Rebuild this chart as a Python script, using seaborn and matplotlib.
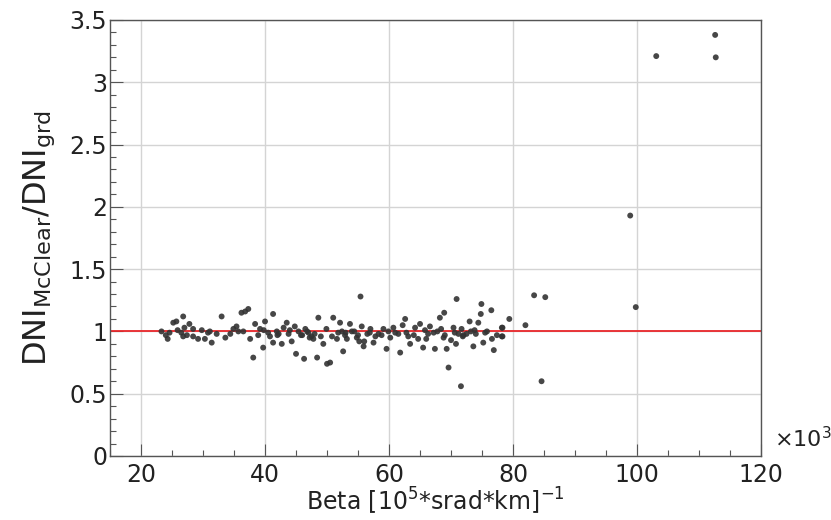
import numpy as np
import pandas as pd
import matplotlib
matplotlib.use("Agg")
import matplotlib.pyplot as plt
from matplotlib.ticker import MultipleLocator
import seaborn as sns

# Beta values (in units of 10^3) and DNI ratio
beta = [
    # 23-37
    26.8, 25.7, 25.2, 33.0, 36.2, 27.8, 23.3, 26.5, 28.4, 31.1, 35.4, 24.3,
    26.8, 29.2, 30.3, 31.4, 34.4, 35.7, 28.4, 24.6, 32.2, 27.0, 29.8, 33.6,
    25.9, 27.4, 30.8, 34.9, 24.0,
    # 36-51
    36.8, 37.3, 41.3, 40.0, 43.5, 48.6, 38.4, 36.5, 39.2, 40.5, 41.9, 45.4,
    47.0, 49.9, 37.6, 41.3, 42.7, 44.3, 47.8, 49.4, 39.7, 38.1, 45.0, 46.3,
    48.4, 50.0, 50.8, 43.0, 46.0, 38.9, 44.8, 47.5,
    42.2, 44.0, 45.8, 46.8, 48.0, 49.0, 40.8, 43.8, 46.5, 47.2, 39.8, 42.0,
    # 50-65
    55.4, 62.6, 51.0, 52.1, 53.7, 55.6, 57.0, 59.1, 60.7, 64.2, 65.0, 51.6,
    53.2, 54.8, 55.9, 57.5, 60.2, 61.8, 63.4, 63.1, 50.5, 52.6, 58.3, 64.7,
    54.0, 56.5, 58.8, 61.0, 62.2, 53.0, 56.0, 59.6,
    51.8, 52.9, 54.4, 55.0, 56.9, 57.8, 59.9, 61.5, 62.8, 64.0, 52.4, 55.2,
    # 65-80
    70.9, 74.9, 76.5, 74.8, 68.9, 68.2, 79.4, 73.0, 74.4, 66.6, 78.2, 71.7,
    70.4, 65.5, 67.4, 69.3, 70.8, 71.9, 73.6, 75.2, 76.6, 76.9, 78.2, 66.0,
    69.6, 71.6, 68.8, 67.2, 72.5, 75.8, 70.0, 73.8,
    66.3, 67.8, 69.0, 70.6, 72.0, 73.2, 74.0, 75.5, 77.4, 65.8, 68.4, 71.2,
    # 78-113
    78.3, 78.3, 82.0, 83.4, 85.2, 84.6, 98.9, 99.8, 103.1, 112.6, 112.7,
]
ratio = [
    1.12, 1.08, 1.07, 1.12, 1.15, 1.06, 1.00, 0.99, 1.02, 1.00, 1.04, 0.94,
    0.96, 0.94, 0.94, 0.91, 0.98, 1.00, 0.96, 0.99, 0.98, 1.03, 1.01, 0.95,
    1.01, 0.97, 0.99, 1.02, 0.97,
    1.16, 1.18, 1.14, 1.08, 1.07, 1.11, 1.06, 1.00, 1.02, 0.99, 1.00, 1.00,
    0.99, 1.02, 0.94, 0.91, 0.90, 0.92, 0.94, 0.90, 0.87, 0.79, 0.82, 0.78,
    0.79, 0.74, 0.96, 1.03, 0.97, 0.97, 1.04, 0.96,
    0.98, 1.01, 0.97, 1.00, 0.98, 0.96, 0.96, 0.98, 1.02, 0.95, 1.01, 0.97,
    1.28, 1.10, 1.11, 1.07, 1.06, 1.04, 1.02, 1.02, 1.03, 1.03, 1.06, 0.94,
    0.94, 0.95, 0.88, 0.91, 0.95, 0.83, 0.90, 0.96, 0.75, 0.84, 0.98, 0.94,
    1.00, 0.98, 0.97, 0.99, 1.05, 0.99, 0.92, 0.86,
    0.99, 0.97, 1.00, 0.97, 0.99, 0.96, 1.00, 0.98, 0.99, 0.97, 1.00, 0.92,
    1.26, 1.22, 1.17, 1.14, 1.15, 1.11, 1.10, 1.08, 1.07, 1.04, 1.03, 1.02,
    1.03, 0.87, 0.86, 0.86, 0.90, 0.96, 0.88, 0.91, 0.94, 0.85, 0.96, 0.94,
    0.71, 0.56, 0.95, 0.99, 0.98, 1.00, 0.93, 1.01,
    0.98, 1.00, 0.97, 0.99, 0.97, 1.00, 0.98, 0.99, 0.97, 1.01, 1.02, 0.98,
    1.03, 0.96, 1.05, 1.29, 1.275, 0.60, 1.93, 1.195, 3.21, 3.38, 3.20,
]

df = pd.DataFrame({"beta": beta, "ratio": ratio})

sns.set_theme(style="whitegrid")
plt.rcParams["font.family"] = ["DejaVu Sans"]
plt.rcParams["mathtext.fontset"] = "dejavusans"

fig = plt.figure(figsize=(8.31, 5.2), dpi=100)
ax = fig.add_axes([0.1324, 0.1231, 0.7834, 0.8385])

sns.scatterplot(data=df, x="beta", y="ratio", ax=ax, s=18, color="#333333",
                edgecolor="none", alpha=0.9, zorder=3)
ax.axhline(1.0, color="#e8262a", lw=1.3, zorder=2)

ax.set_xlim(15, 120)
ax.set_ylim(0, 3.5)
ax.xaxis.set_major_locator(MultipleLocator(20))
ax.xaxis.set_minor_locator(MultipleLocator(5))
ax.yaxis.set_major_locator(MultipleLocator(0.5))
ax.yaxis.set_minor_locator(MultipleLocator(0.1))
ax.set_yticks([0, 0.5, 1, 1.5, 2, 2.5, 3, 3.5])
ax.set_yticklabels(["0", "0.5", "1", "1.5", "2", "2.5", "3", "3.5"])

ax.grid(True, which="major", color="#d4d4d4", lw=1.0)
ax.grid(False, which="minor")
ax.tick_params(axis="both", which="major", direction="in", length=9,
               width=0.8, color="#555555", labelsize=17, labelcolor="#222222")
ax.tick_params(axis="both", which="minor", direction="in", length=4.5,
               width=0.8, color="#555555")
ax.tick_params(axis="x", which="both", bottom=True, pad=5)
ax.tick_params(axis="y", which="both", left=True, pad=2)
for sp in ax.spines.values():
    sp.set_color("#555555")
    sp.set_linewidth(1.0)

ax.set_xlabel(r"Beta [10$^{5}$*srad*km]$^{-1}$", fontsize=17, color="#222222",
              labelpad=-1)
ax.set_ylabel(r"DNI$_{\mathregular{McClear}}$/DNI$_{\mathregular{grd}}$",
              fontsize=23, color="#222222", labelpad=9)
ax.text(1.02, 0.04, r"×10$^{3}$", transform=ax.transAxes, fontsize=16,
        color="#222222", ha="left", va="center")

fig.savefig("out.png", dpi=100)
